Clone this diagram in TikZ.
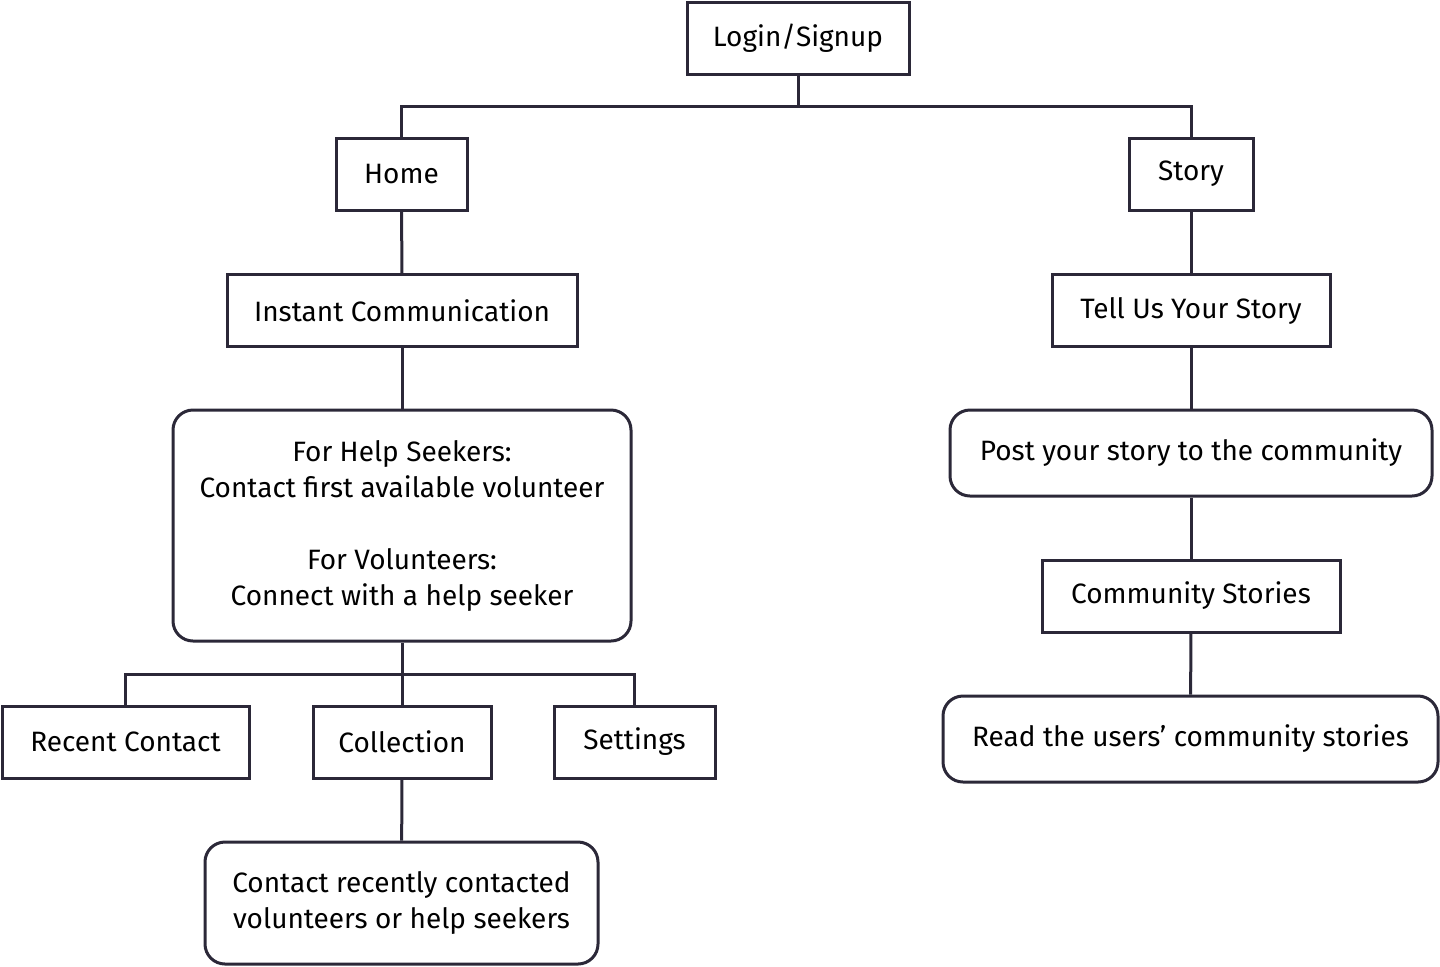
\documentclass[tikz,border=0pt]{standalone}
\usepackage{fontspec}
\setmainfont{Fira Sans}
\usetikzlibrary{positioning}
\definecolor{ink}{HTML}{2B2838}

\begin{document}
\begin{tikzpicture}[
    x=0.5pt, y=-0.5pt,
    box/.style={draw=ink, line width=1.5pt, rectangle, minimum height=36pt, inner sep=0pt, align=center, font=\fontsize{14}{18}\selectfont, text=black},
    roundbox/.style={box, rounded corners=10pt},
    link/.style={draw=ink, line width=1.5pt}
]
\useasboundingbox (0,0) rectangle (1440,966);

% --- Nodos ---
\node (login) [box, minimum width=111pt] at (798,38) {Login/Signup};
\node (home) [box, minimum width=65.5pt] at (401.5,174) {Home};
\node (story) [box, minimum width=62pt] at (1191,174) {Story};
\node (instant) [box, minimum width=175pt] at (402,310.5) {Instant Communication};
\node (tell) [box, minimum width=139pt] at (1191,310.5) {Tell Us Your Story};
\node (seekers) [roundbox, minimum width=229pt, minimum height=115.5pt] at (402,525.5)
    {For Help Seekers:\\Contact first available volunteer\\[18pt]For Volunteers:\\Connect with a help seeker};
\node (post) [roundbox, minimum width=241pt, minimum height=43pt] at (1191,453) {Post your story to the community};
\node (stories) [box, minimum width=149pt] at (1191,596) {Community Stories};
\node (read) [roundbox, minimum width=247.5pt, minimum height=43pt] at (1190.5,739) {Read the users’ community stories};
\node (recent) [box, minimum width=123.5pt] at (125.5,742) {Recent Contact};
\node (collection) [box, minimum width=89pt] at (402,742) {Collection};
\node (settings) [box, minimum width=80.5pt] at (634.5,742) {Settings};
\node (contact) [roundbox, minimum width=196.5pt, minimum height=61pt] at (401.5,903)
    {Contact recently contacted\\volunteers or help seekers};

% --- Conexiones ---
\coordinate (top) at (798,106);
\coordinate (mid) at (402,674);
\draw [link] (login) -- (top);
\draw [link] (home) |- (top) -| (story);
\draw [link] (home) -- (instant);
\draw [link] (instant) -- (seekers);
\draw [link] (story) -- (tell);
\draw [link] (tell) -- (post);
\draw [link] (post) -- (stories);
\draw [link] (stories) -- (read);
\draw [link] (seekers) -- (collection);
\draw [link] (recent) |- (mid) -| (settings);
\draw [link] (collection) -- (contact);
\end{tikzpicture}
\end{document}
